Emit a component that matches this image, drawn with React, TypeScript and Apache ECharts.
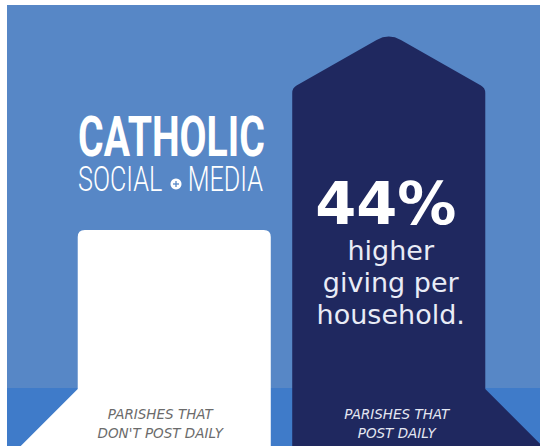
import React, { useEffect, useRef } from "react";
import * as echarts from "echarts";

// ---- data ----
const categories = ["PARISHES THAT\nDON'T POST DAILY", "PARISHES THAT\nPOST DAILY"];
const givingIndex = [100, 144]; // giving per household, non-daily posters = 100
const headlineLines = ["higher", "giving per", "household."];
const logoTop = "CATHOLIC";
const logoBottom = ["SOCIAL", "MEDIA"];

// ---- style ----
const BG = "#5787C6";
const BAND = "#3F7BC9";
const NAVY = "#1F285F";
const WHITE = "#FFFFFF";
const FLOOR_Y = 389;
const ROOF_RATIO = 0.285;
const AXIS_MIN = 33;
const AXIS_MAX = 160;
const labelShift = [-14, 8];

function roundedPath(pts: number[][]): string {
  const n = pts.length;
  let d = "";
  for (let k = 0; k < n; k++) {
    const [px, py, r] = pts[k];
    const prev = pts[(k - 1 + n) % n];
    const next = pts[(k + 1) % n];
    const cmd = k === 0 ? "M" : "L";
    if (!r) {
      d += `${cmd}${px},${py} `;
    } else {
      const dx1 = prev[0] - px, dy1 = prev[1] - py;
      const l1 = Math.hypot(dx1, dy1);
      const dx2 = next[0] - px, dy2 = next[1] - py;
      const l2 = Math.hypot(dx2, dy2);
      const ax = px + (dx1 / l1) * r, ay = py + (dy1 / l1) * r;
      const bx = px + (dx2 / l2) * r, by = py + (dy2 / l2) * r;
      d += `${cmd}${ax},${ay} Q${px},${py} ${bx},${by} `;
    }
  }
  return d + "Z";
}

export default function App() {
  const ref = useRef<HTMLDivElement>(null);
  useEffect(() => {
    if (!ref.current) return;
    const chart = echarts.init(ref.current, undefined, { renderer: "svg" });

    const renderItem = (params: any, api: any) => {
      const i = api.value(0);
      const v = api.value(1);
      const [xc, yTop] = api.coord([i, v]);
      const base = api.coord([i, AXIS_MIN])[1] + 4;
      const bw = api.size([1, 0])[0] * 0.9;
      const x0 = xc - bw / 2;
      const x1 = xc + bw / 2;
      const drop = base - FLOOR_Y;
      const children: any[] = [];
      const lines = categories[i].split("\n");
      if (i === 0) {
        const d = roundedPath([
          [x0 - drop, base, 0],
          [x0, FLOOR_Y, 0],
          [x0, yTop, 7],
          [x1, yTop, 7],
          [x1, base, 0],
        ]);
        children.push({ type: "path", shape: { pathData: d }, style: { fill: WHITE } });
      } else {
        const roof = bw * ROOF_RATIO;
        const d = roundedPath([
          [x0, base, 0],
          [x0, yTop, 5],
          [xc, yTop - roof, 14],
          [x1, yTop, 5],
          [x1, FLOOR_Y, 0],
          [x1 + drop, base, 0],
        ]);
        children.push({ type: "path", shape: { pathData: d }, style: { fill: NAVY } });
        const base0 = givingIndex[0];
        const pct = Math.round((v / base0 - 1) * 100) + "%";
        children.push({
          type: "text",
          x: xc - 3,
          y: yTop + 116,
          style: {
            text: pct,
            fill: WHITE,
            fontFamily: "DejaVu Sans",
            fontWeight: "bold",
            fontSize: 59,
            lineHeight: 40,
            align: "center",
            verticalAlign: "middle",
          },
        });
        headlineLines.forEach((t, k) => {
          children.push({
            type: "text",
            x: xc + 2,
            y: yTop + 163 + k * 32,
            style: {
              text: t,
              fill: "#E9ECF6",
              fontFamily: "DejaVu Sans",
              fontSize: 27,
              lineHeight: 26,
              align: "center",
              verticalAlign: "middle",
            },
          });
        });
      }
      lines.forEach((t, k) => {
        children.push({
          type: "text",
          x: xc + labelShift[i],
          y: 414 + k * 19,
          style: {
            text: t,
            fill: i === 0 ? "#6B6B6B" : "#E4E7F2",
            fontFamily: "DejaVu Sans",
            fontStyle: "italic",
            fontSize: 13.5,
            align: "center",
            verticalAlign: "middle",
          },
        });
      });
      return { type: "group", children };
    };

    const option: any = {
      animation: false,
      backgroundColor: "#FFFFFF",
      grid: { left: 67, width: 429, top: 36.36, bottom: 0 },
      xAxis: { type: "category", data: categories, show: false },
      yAxis: { type: "value", min: AXIS_MIN, max: AXIS_MAX, show: false },
      graphic: [
        { type: "rect", z: 0, shape: { x: 7, y: 5, width: 533, height: 441 }, style: { fill: BG } },
        { type: "rect", z: 1, shape: { x: 7, y: FLOOR_Y - 1, width: 533, height: 60 }, style: { fill: BAND } },
        {
          type: "text",
          z: 10,
          x: 78,
          y: 137,
          scaleX: 0.7,
          style: {
            text: logoTop,
            fill: WHITE,
            fontFamily: "Roboto",
            fontWeight: "bold",
            fontSize: 56,
            textAlign: "left",
            textVerticalAlign: "middle",
          },
        },
        {
          type: "text",
          z: 10,
          x: 78,
          y: 179,
          scaleX: 0.72,
          style: {
            text: logoBottom[0],
            fill: WHITE,
            fontFamily: "Roboto",
            fontWeight: 300,
            fontSize: 35,
            textAlign: "left",
            textVerticalAlign: "middle",
          },
        },
        {
          type: "text",
          z: 10,
          x: 263,
          y: 179,
          scaleX: 0.72,
          style: {
            text: logoBottom[1],
            fill: WHITE,
            fontFamily: "Roboto",
            fontWeight: 300,
            fontSize: 35,
            textAlign: "right",
            textVerticalAlign: "middle",
          },
        },
        { type: "circle", z: 10, shape: { cx: 176, cy: 184, r: 5.5 }, style: { fill: WHITE } },
        { type: "line", z: 11, shape: { x1: 173, y1: 184, x2: 179, y2: 184 }, style: { stroke: BG, lineWidth: 1.3 } },
        { type: "line", z: 11, shape: { x1: 176, y1: 181, x2: 176, y2: 187 }, style: { stroke: BG, lineWidth: 1.3 } },
      ],
      series: [
        {
          type: "custom",
          z: 2,
          renderItem,
          encode: { x: 0, y: 1 },
          data: givingIndex.map((v, i) => [i, v]),
        },
      ],
    };
    chart.setOption(option);
    return () => chart.dispose();
  }, []);
  return <div ref={ref} style={{ position: "absolute", left: 0, top: 0, width: 540, height: 446 }} />;
}
